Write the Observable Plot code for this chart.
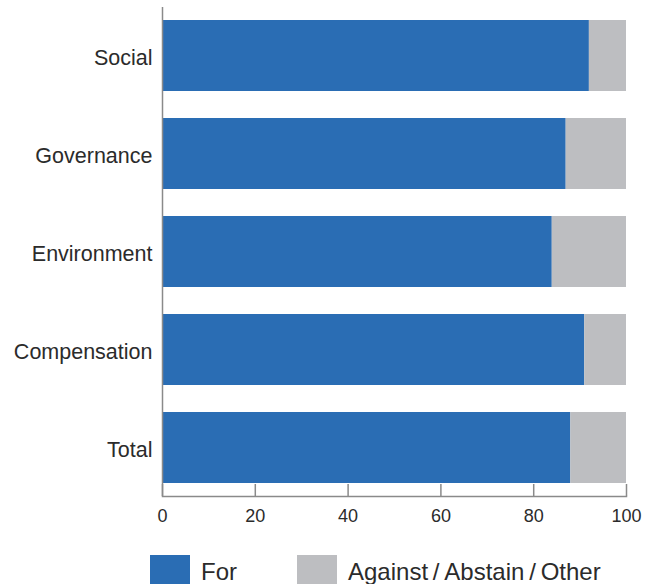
<!DOCTYPE html>
<html>
<head>
<meta charset="utf-8">
<script src="https://cdn.jsdelivr.net/npm/d3@7"></script>
<script src="https://cdn.jsdelivr.net/npm/@observablehq/plot@0.6"></script>
<style>
  html, body { margin: 0; padding: 0; background: #fff; }
  #wrap { position: relative; width: 656px; height: 584px; overflow: hidden; font-family: "Liberation Sans", Arial, sans-serif; color: #2b2b2b; }
  #chart { position: absolute; left: 0; top: 0; }
  .key { position: absolute; top: 555px; height: 40px; width: 40px; }
  .key-label { position: absolute; top: 558px; font-size: 24px; line-height: 28px; white-space: nowrap; }
</style>
</head>
<body>
<div id="wrap">
  <div id="chart"></div>
  <div id="legend"></div>
</div>
<script>
// Share of votes by proposal category (%)
const categories = ["Social", "Governance", "Environment", "Compensation", "Total"];
const forShare = [92, 87, 84, 91, 88];
const againstShare = [8, 13, 16, 9, 12];
const groups = ["For", "Against\u2009/\u2009Abstain\u2009/\u2009Other"];
const xTicks = [0, 20, 40, 60, 80, 100];

const colors = ["#2a6db4", "#bdbec1"];
const axisGray = "#8a8a8a";

const rows = [];
categories.forEach((c, i) => {
  rows.push({category: c, group: groups[0], value: forShare[i]});
  rows.push({category: c, group: groups[1], value: againstShare[i]});
});

const chart = Plot.plot({
  width: 656,
  height: 530,
  marginLeft: 162,
  marginRight: 30,
  marginTop: 7,
  marginBottom: 34,
  style: {fontFamily: "Liberation Sans, Arial, sans-serif", color: "#2b2b2b", background: "transparent"},
  x: {domain: [0, 100]},
  y: {domain: categories, paddingInner: 0.273, paddingOuter: 0.125},
  color: {domain: groups, range: colors},
  marks: [
    Plot.barX(rows, Plot.stackX({y: "category", x: "value", fill: "group", order: groups})),
    // short upward ticks on the value axis
    Plot.ruleX(xTicks, {x: d => d, stroke: axisGray, strokeWidth: 1.5, insetTop: 477}),
    Plot.ruleX([0], {stroke: axisGray, strokeWidth: 1.5}),
    Plot.frame({anchor: "bottom", stroke: axisGray, strokeWidth: 1.5}),
    Plot.axisX({ticks: xTicks, tickSize: 0, tickPadding: 13, fontSize: 18, label: null, fill: "#2b2b2b"}),
    Plot.axisY({tickSize: 0, tickPadding: 10, fontSize: 21.5, dy: 2, label: null, fill: "#2b2b2b"})
  ]
});
document.getElementById("chart").appendChild(chart);

// legend below the chart
const legend = document.getElementById("legend");
const keyPos = [{sw: 150, tx: 201}, {sw: 297, tx: 348}];
groups.forEach((g, i) => {
  const sw = document.createElement("div");
  sw.className = "key";
  sw.style.left = keyPos[i].sw + "px";
  sw.style.background = colors[i];
  legend.appendChild(sw);
  const t = document.createElement("div");
  t.className = "key-label";
  t.style.left = keyPos[i].tx + "px";
  t.textContent = g;
  legend.appendChild(t);
});
</script>
</body>
</html>
